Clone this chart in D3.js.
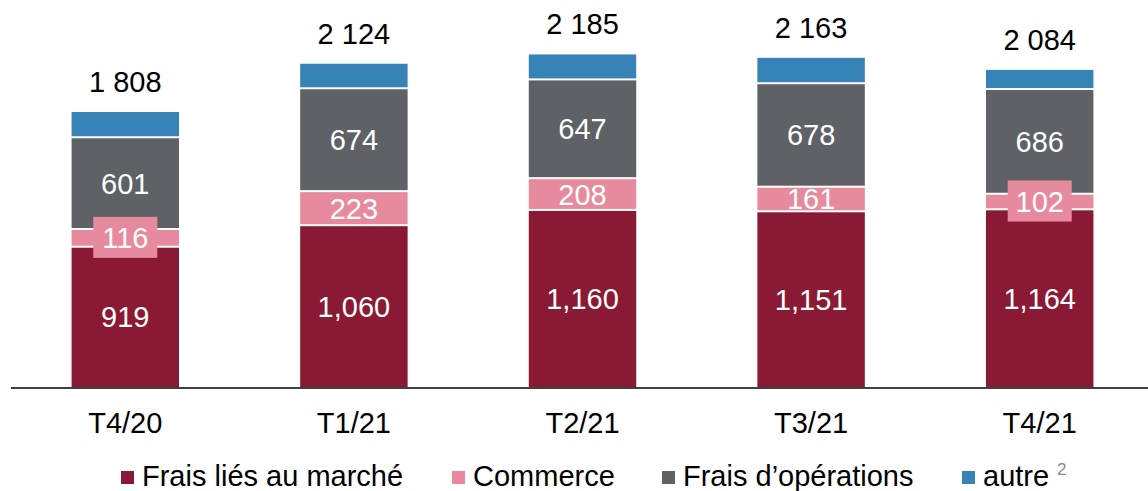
<!DOCTYPE html>
<html>
<head>
<meta charset="utf-8">
<script src="https://cdn.jsdelivr.net/npm/d3@7"></script>
<style>
    html, body { margin: 0; padding: 0; background: #fff; }
    svg { display: block; font-family: 'Liberation Sans', Arial, sans-serif; }
</style>
</head>
<body>
<svg width="1148" height="491"></svg>
<script>
const quarters = ['T4/20', 'T1/21', 'T2/21', 'T3/21', 'T4/21'];
const marche = [919, 1060, 1160, 1151, 1164];
const commerce = [116, 223, 208, 161, 102];
const operations = [601, 674, 647, 678, 686];
const autre = [172, 167, 170, 173, 132];
const totals = ['1 808', '2 124', '2 185', '2 163', '2 084'];

const seriesNames = ['Frais liés au marché', 'Commerce', 'Frais d\u2019opérations', 'autre'];
const seriesColors = ['#8a1a34', '#e88a9e', '#5e6266', '#3783b8'];
const seriesValues = [marche, commerce, operations, autre];
const showLabel = [true, true, true, false];

const svg = d3.select('svg');
const baseline = 387;

const x = d3.scaleBand()
    .domain(quarters)
    .range([11, 1154])
    .paddingInner(0.53)
    .paddingOuter(0.265);

const y = d3.scaleLinear()
    .domain([0, 2500])
    .range([baseline, baseline - 2500 * 0.15265]);

const fmt = d3.format(',');

// stack the segments per quarter
const stacked = quarters.map((q, i) => {
    let acc = 0;
    return seriesValues.map((vals, s) => {
        const d = { q, s, value: vals[i], y0: acc, y1: acc + vals[i] };
        acc += vals[i];
        return d;
    });
});

const bars = svg.append('g')
    .attr('class', 'bars')
    .selectAll('g')
    .data(stacked)
    .enter()
    .append('g');

bars.selectAll('rect')
    .data(d => d)
    .enter()
    .append('rect')
    .attr('x', d => x(d.q))
    .attr('width', x.bandwidth())
    .attr('y', d => y(d.y1) + 1)
    .attr('height', d => y(d.y0) - y(d.y1) - (d.s === 0 ? 1 : 2))
    .attr('fill', d => seriesColors[d.s]);

// segment labels (small segments get a pink box behind the number)
const labels = bars.selectAll('g.lab')
    .data(d => d.filter(e => showLabel[e.s]))
    .enter()
    .append('g')
    .attr('class', 'lab')
    .attr('transform', d => `translate(${x(d.q) + x.bandwidth() / 2},${(y(d.y0) + y(d.y1)) / 2})`);

labels.filter(d => y(d.y0) - y(d.y1) < 20)
    .append('rect')
    .attr('x', -32)
    .attr('y', -21)
    .attr('width', 64)
    .attr('height', 41)
    .attr('fill', d => seriesColors[d.s]);

labels.append('text')
    .attr('text-anchor', 'middle')
    .attr('dy', '0.36em')
    .attr('fill', '#fff')
    .style('font-size', '29px')
    .text(d => fmt(d.value));

// totals above bars
svg.append('g')
    .selectAll('text')
    .data(quarters)
    .enter()
    .append('text')
    .attr('x', d => x(d) + x.bandwidth() / 2)
    .attr('y', (d, i) => y(d3.sum(seriesValues, v => v[i])) - 19)
    .attr('text-anchor', 'middle')
    .attr('fill', '#000')
    .style('font-size', '29px')
    .text((d, i) => totals[i]);

// baseline and category axis
svg.append('line')
    .attr('x1', 11)
    .attr('x2', 1148)
    .attr('y1', baseline + 1)
    .attr('y2', baseline + 1)
    .attr('stroke', '#000')
    .attr('stroke-width', 1.5);

const axis = svg.append('g')
    .attr('transform', `translate(0,${baseline + 1})`)
    .call(d3.axisBottom(x).tickSize(0).tickPadding(0));
axis.select('.domain').remove();
axis.selectAll('text')
    .attr('y', 45)
    .attr('dy', 0)
    .attr('fill', '#000')
    .style('font-family', "'Liberation Sans', Arial, sans-serif")
    .style('font-size', '29px');

// legend
const legendX = [121, 452, 662, 962];
const legend = svg.append('g')
    .selectAll('g')
    .data(seriesNames)
    .enter()
    .append('g')
    .attr('transform', (d, i) => `translate(${legendX[i]},471)`);

legend.append('rect')
    .attr('width', 13)
    .attr('height', 13)
    .attr('fill', (d, i) => seriesColors[i]);

legend.append('text')
    .attr('x', 21)
    .attr('y', 15)
    .attr('fill', '#000')
    .style('font-size', '29px')
    .text(d => d)
    .filter((d, i) => i === 3)
    .append('tspan')
    .attr('dx', 8)
    .attr('dy', -11)
    .attr('fill', '#888')
    .style('font-size', '17px')
    .text('2');
</script>
</body>
</html>
